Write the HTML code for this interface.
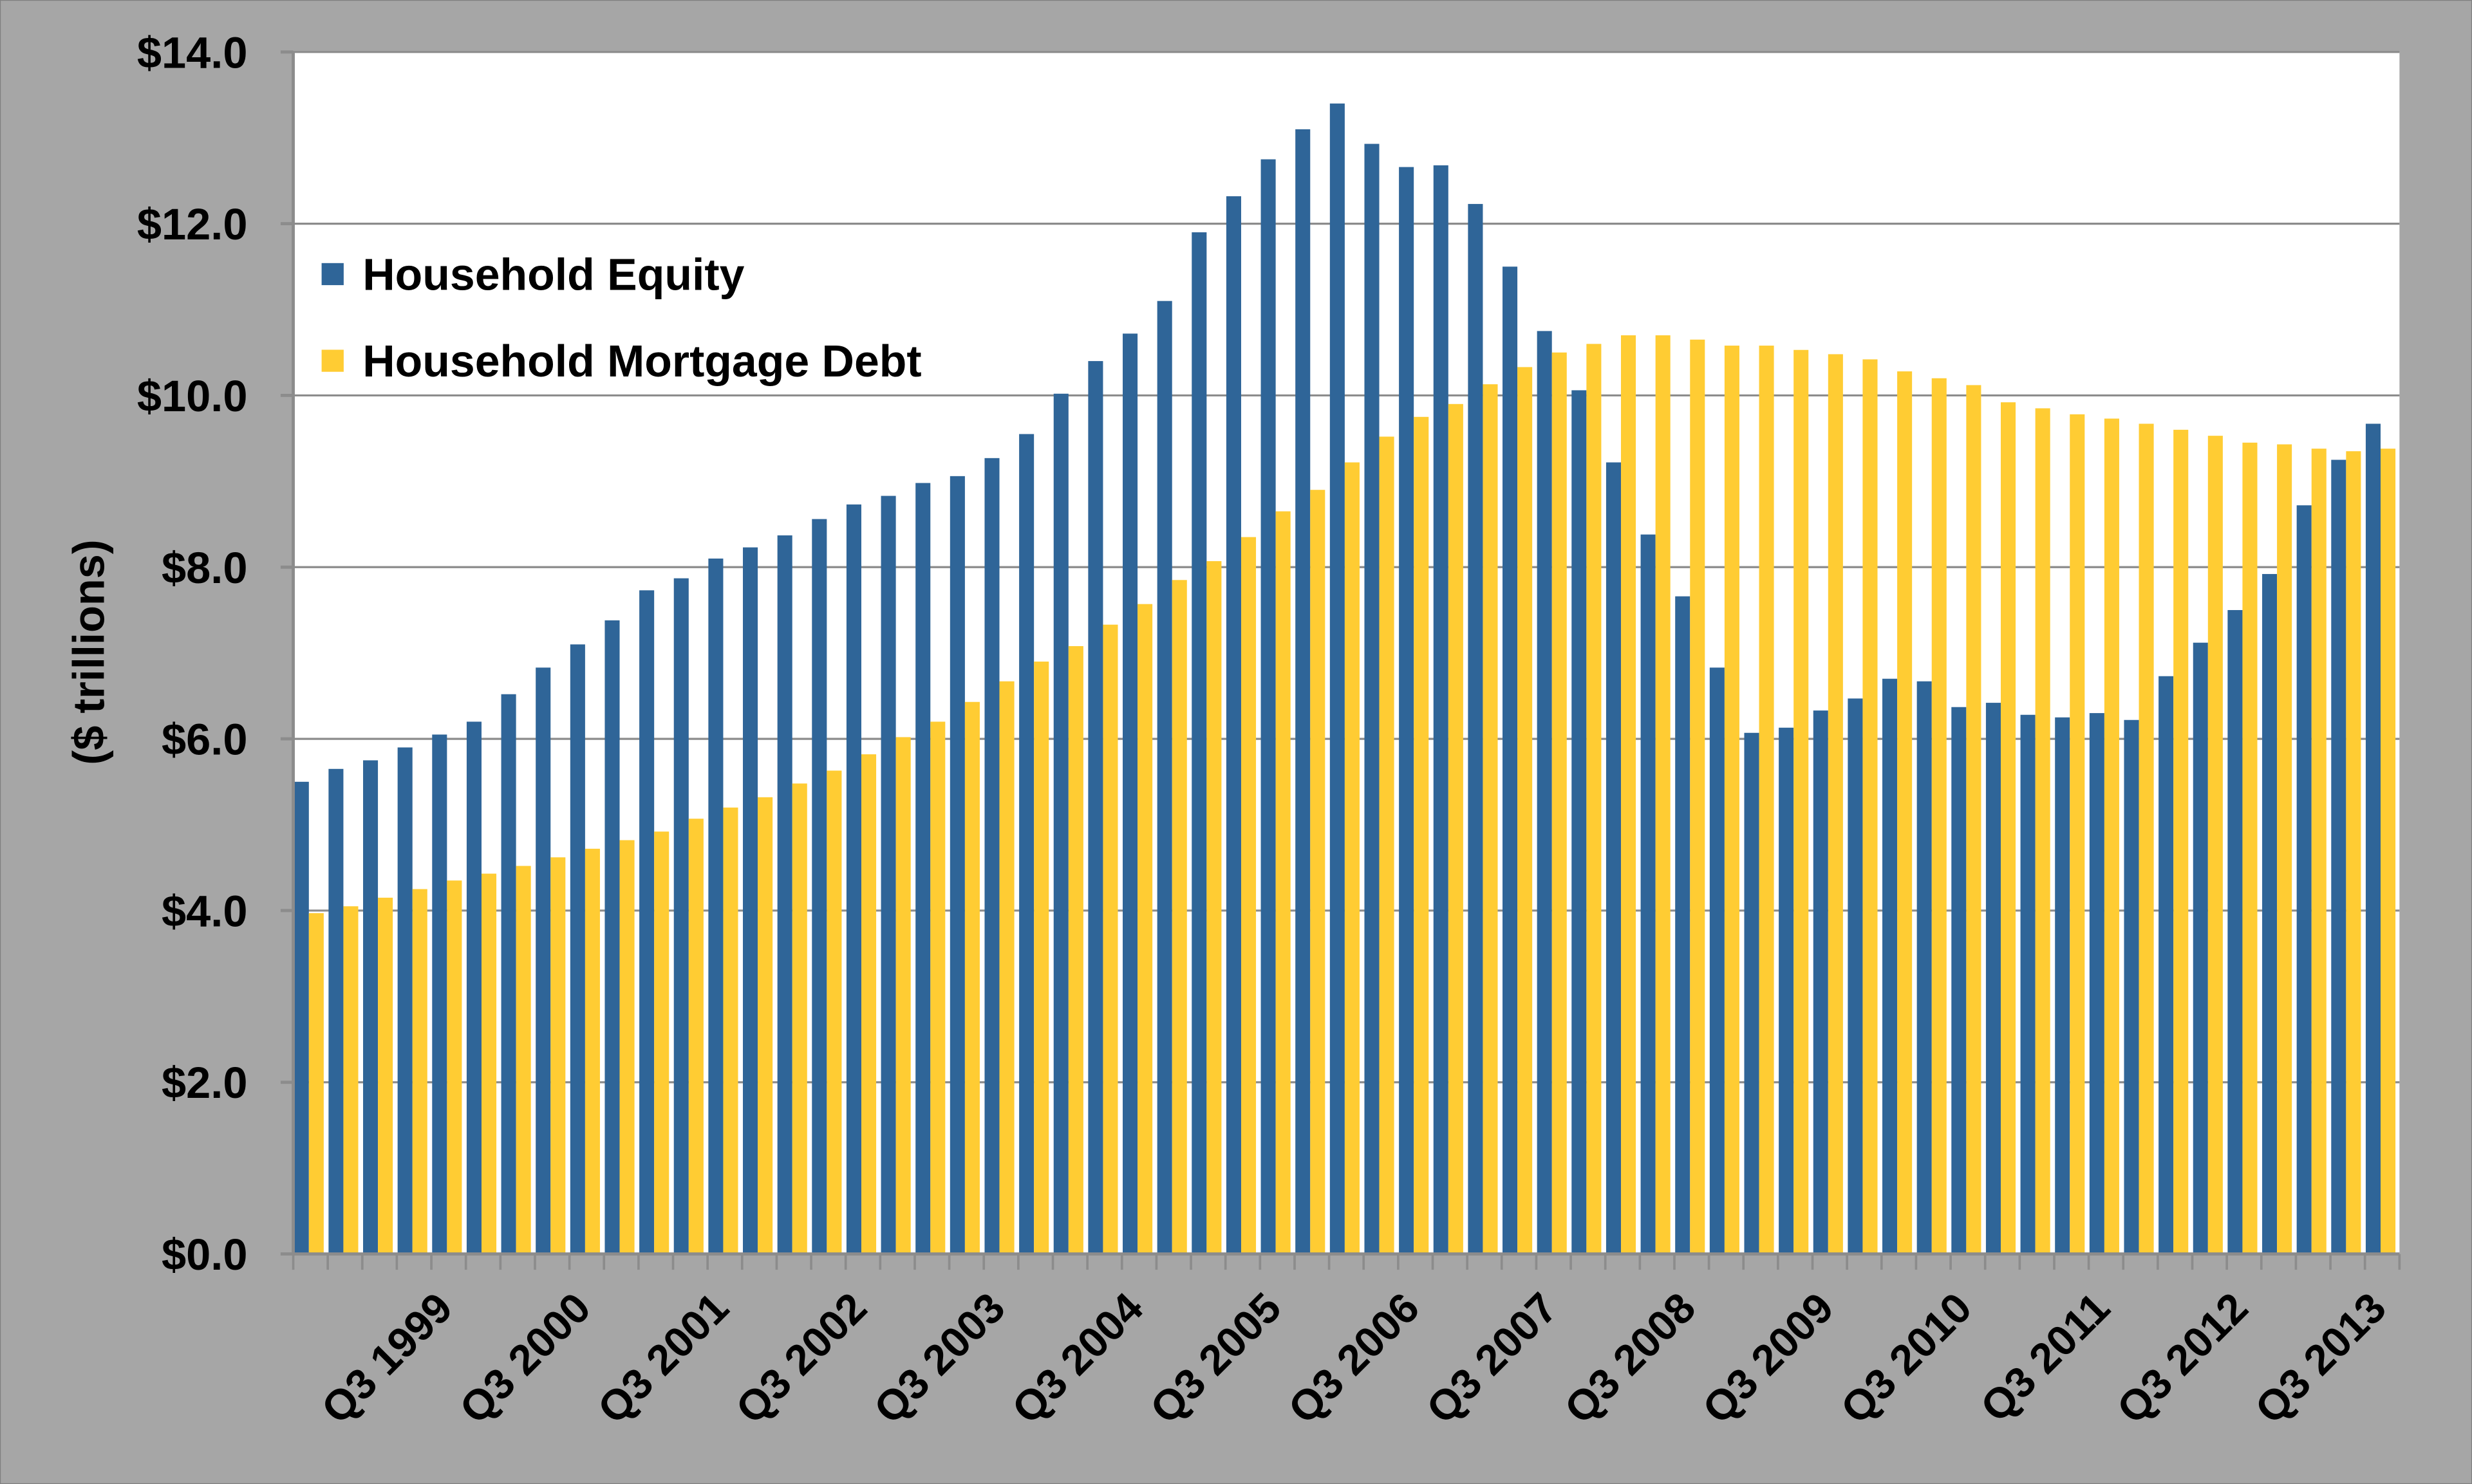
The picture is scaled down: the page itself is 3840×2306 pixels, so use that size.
<!DOCTYPE html>
<html><head><meta charset="utf-8"><style>
html,body{margin:0;padding:0;background:#a6a6a6;}
svg{display:block;}
text{font-family:"Liberation Sans",Arial,sans-serif;font-weight:bold;fill:#000;}
</style></head><body>
<svg id="chart" width="3840" height="2306" viewBox="0 0 1568 942" preserveAspectRatio="none" xmlns="http://www.w3.org/2000/svg">
<rect x="0" y="0" width="1568" height="942" fill="#a6a6a6" stroke="#7f7f7f" stroke-width="1"/>
<rect x="186" y="33" width="1336" height="763" fill="#ffffff"/>
<g id="grid"></g><g id="bars"></g><g id="axes"></g>
<text transform="translate(66,414) rotate(-90)" text-anchor="middle" font-size="28">($ trillions)</text>
<rect x="204" y="167" width="14" height="14" fill="#2f6598"/>
<text x="230" y="184" font-size="28.5">Household Equity</text>
<rect x="204" y="222" width="14" height="14" fill="#ffcc33"/>
<text x="230" y="239" font-size="28.5">Household Mortgage Debt</text>
</svg>
<script>
const equity=[5.5,5.65,5.75,5.9,6.05,6.2,6.52,6.83,7.1,7.38,7.73,7.87,8.1,8.23,8.37,8.56,8.73,8.83,8.98,9.06,9.27,9.55,10.02,10.4,10.72,11.1,11.9,12.32,12.75,13.1,13.4,12.93,12.66,12.68,12.23,11.5,10.75,10.06,9.22,8.38,7.66,6.83,6.07,6.13,6.33,6.47,6.7,6.67,6.37,6.42,6.28,6.25,6.3,6.22,6.73,7.12,7.5,7.92,8.72,9.25,9.67];
const mortgage=[3.97,4.05,4.15,4.25,4.35,4.43,4.52,4.62,4.72,4.82,4.92,5.07,5.2,5.32,5.48,5.63,5.82,6.02,6.2,6.43,6.67,6.9,7.08,7.33,7.57,7.85,8.07,8.35,8.65,8.9,9.22,9.52,9.75,9.9,10.13,10.33,10.5,10.6,10.7,10.7,10.65,10.58,10.58,10.53,10.48,10.42,10.28,10.2,10.12,9.92,9.85,9.78,9.73,9.67,9.6,9.53,9.45,9.43,9.38,9.35,9.38];
const yTicks=[0,2,4,6,8,10,12,14];
const yTickLabels=["$0.0","$2.0","$4.0","$6.0","$8.0","$10.0","$12.0","$14.0"];
const xLabels=["Q3 1999","Q3 2000","Q3 2001","Q3 2002","Q3 2003","Q3 2004","Q3 2005","Q3 2006","Q3 2007","Q3 2008","Q3 2009","Q3 2010","Q3 2011","Q3 2012","Q3 2013"];
const NS="http://www.w3.org/2000/svg";
const L=186,R=1522,T=33,B=796,N=equity.length,band=(R-L)/N;
const y=v=>B-(v/14)*(B-T);
const x=i=>L+i*band;
function mk(p,tag,a){const e=document.createElementNS(NS,tag);for(const k in a)e.setAttribute(k,a[k]);p.appendChild(e);return e;}
const grid=document.getElementById('grid'),bars=document.getElementById('bars'),axes=document.getElementById('axes');
yTicks.forEach((t,k)=>{
  if(t>0){const g=mk(grid,'line',{x1:L,x2:R,y1:y(t),y2:y(t),stroke:'#8c8c8c','stroke-width':1.3});
  
  }
  const tk=mk(axes,'line',{x1:L-8,x2:L,y1:y(t),y2:y(t),stroke:'#8c8c8c','stroke-width':2});
  
  
  const tx=mk(axes,'text',{x:157,y:y(t)+10,'text-anchor':'end','font-size':28});
  tx.textContent=yTickLabels[k];
  
  
});
const bw=band*0.43;
equity.forEach((v,i)=>{
  const b=mk(bars,'rect',{x:x(i)+0.5,y:y(v),width:bw,height:B-y(v),fill:'#2f6598'});
  
  
  const m=mortgage[i];
  const c=mk(bars,'rect',{x:x(i)+0.5+bw,y:y(m),width:bw,height:B-y(m),fill:'#ffcc33'});
  
  
});
const ax=mk(axes,'line',{x1:L,x2:L,y1:T,y2:B,stroke:'#8c8c8c','stroke-width':2});


const bx=mk(axes,'line',{x1:L-8,x2:R,y1:B,y2:B,stroke:'#8c8c8c','stroke-width':2});


for(let i=0;i<=N;i++){
  const t=mk(axes,'line',{x1:x(i),x2:x(i),y1:B,y2:B+10,stroke:'#8c8c8c','stroke-width':1.5});
  
  
}
xLabels.forEach((s,k)=>{
  const i=4+k*4,cx=x(i)+band/2+4,cy=832;
  const t=mk(axes,'text',{x:cx,y:cy,'text-anchor':'end','font-size':27,transform:`rotate(-45 ${cx} ${cy})`});
  t.textContent=s;
  
  
});
</script>
</body></html>
